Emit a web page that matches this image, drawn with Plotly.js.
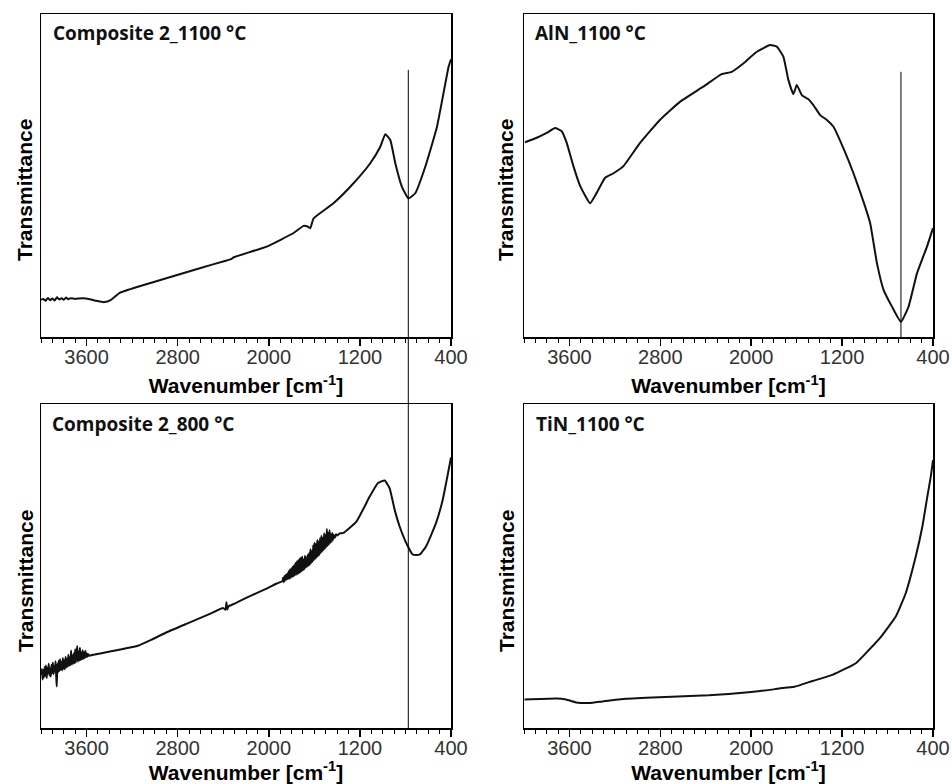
<!DOCTYPE html>
<html>
<head>
<meta charset="utf-8">
<script src="https://cdn.plot.ly/plotly-3.0.1.min.js"></script>
<style>html,body{margin:0;padding:0;background:#fff;}#chart{width:952px;height:784px;}</style>
</head>
<body>
<div id="chart"></div>
<script>
// ---------- Data (wavenumber in cm^-1, transmittance in arbitrary units 0..100) ----------
const panelTitles = ['Composite 2_1100 °C', 'AlN_1100 °C', 'Composite 2_800 °C', 'TiN_1100 °C'];
const tickVals = [3600, 2800, 2000, 1200, 400];

// Composite 2_1100 °C
const comp1100Wn = [4000,3980,3960,3940,3920,3900,3880,3860,3840,3820,3800,3780,3760,3740,3700,3635,3560,3517,3444,3385,3312,3135,2900,2606,2370,2330,2312,2018,1782,1694,1660,1635,1607,1432,1256,1109,1021,977,933,889,831,773,714,626,523,421,400];
const comp1100T  = [11.5,11.8,11.2,12.1,11.4,11.9,11.3,12.3,11.6,12.0,11.5,12.2,11.7,12.0,11.8,12.0,11.6,11.2,10.8,11.5,13.6,15.7,18.2,21.3,23.7,24.1,24.6,28.0,32.2,34.4,34.2,33.7,36.7,41.4,47.6,53.8,58.9,62.8,61.0,53.8,46.5,42.9,44.5,52.7,65.1,83.7,86.0];

// AlN_1100 °C
const alnWn = [3991,3888,3800,3726,3668,3624,3565,3506,3418,3359,3286,3212,3125,2980,2804,2628,2422,2260,2172,2070,1951,1834,1775,1717,1673,1629,1599,1555,1497,1453,1393,1334,1276,1188,1100,1012,953,893,835,761,682,615,541,453,400];
const alnT  = [60.3,61.7,63.2,64.7,63.7,60.1,52.9,46.8,41.4,44.7,49.3,50.7,52.9,60.0,67.2,72.8,77.5,81.4,82.1,84.7,88.3,90.4,89.9,86.8,79.6,75.2,78.0,74.9,73.6,71.8,68.7,67.2,65.1,58.4,50.7,41.9,35.2,22.8,14.6,9.4,4.7,9.4,19.7,28.0,33.7];

// Composite 2_800 °C
const comp800Wn = [3998,3992,3986,3980,3974,3968,3962,3956,3950,3944,3938,3932,3926,3920,3914,3908,3902,3896,3890,3884,3878,3872,3866,3862,3856,3850,3844,3838,3832,3826,3820,3814,3808,3802,3796,3790,3784,3778,3772,3766,3760,3754,3748,3742,3736,3730,3724,3718,3712,3706,3700,3694,3688,3682,3676,3670,3664,3658,3652,3646,3640,3634,3628,3622,3616,3610,3604,3598,3592,3586,3575,3540,3469,3324,3149,3033,2887,2713,2538,2400,2380,2372,2365,2355,2300,2189,2015,1930,
  1880,1874,1868,1862,1856,1850,1844,1838,1832,1826,1820,1814,1808,1802,1796,1790,1784,1778,1772,1766,1760,1754,1748,1742,1736,1730,1724,1718,1712,1706,1700,1694,1688,1682,1676,1670,1664,1658,1652,1646,1640,1634,1628,1622,1616,1610,1604,1598,1592,1586,1580,1574,1568,1562,1556,1550,1544,1538,1532,1526,1520,1514,1508,1502,1496,1490,1484,1478,1472,1466,1460,1454,1448,1442,1436,1430,1420,1410,1400,1380,
  1346,1229,1113,1041,982,939,895,851,793,735,677,618,531,473,415,400];
const comp800T  = [16.4,18.2,15.0,17.9,15.6,18.8,16.1,19.3,15.4,18.6,16.9,19.8,16.2,18.4,15.9,19.5,17.0,20.2,16.6,19.1,17.4,20.6,15.8,12.8,19.9,17.2,20.8,17.6,21.2,18.0,20.4,17.8,21.6,18.3,20.9,18.1,22.0,18.7,21.3,18.9,22.6,19.2,21.8,19.4,23.9,19.6,22.4,19.8,23.1,20.0,24.3,20.2,22.9,25.3,20.5,23.6,20.8,24.8,21.0,23.3,21.2,24.0,21.4,23.4,21.6,23.8,21.9,23.0,22.0,22.8,22.3,22.6,23.1,24.1,25.4,27.2,29.7,32.3,34.9,37.0,36.5,38.8,36.6,37.5,38.4,40.3,43.1,44.6,
  45.3,46.4,45.0,46.9,45.5,47.3,45.8,47.6,46.0,48.4,46.1,48.9,46.3,49.2,46.6,49.8,46.8,50.2,47.1,50.9,47.3,51.4,47.5,51.8,47.7,52.2,48.0,52.6,48.4,52.9,48.6,52.0,49.0,53.2,49.5,52.6,49.8,53.5,50.1,54.0,50.3,55.2,50.9,54.6,51.3,56.4,51.8,57.2,52.2,56.8,52.6,58.0,53.0,57.6,53.4,58.6,54.0,59.3,54.4,58.7,54.9,60.1,55.3,59.6,55.8,61.4,56.2,60.3,56.6,61.0,57.2,59.8,57.5,60.2,58.0,59.6,58.7,59.8,59.4,60.0,
  60.2,63.8,71.5,75.6,76.4,74.0,67.4,62.2,57.1,53.5,53.5,56.1,63.3,70.4,80.7,83.5];

// TiN_1100 °C
const tinWn = [3995,3717,3630,3542,3425,3308,3104,2812,2374,2024,1790,1753,1621,1461,1285,1079,991,875,728,640,552,494,450,420,400];
const tinT  = [8.8,9.1,8.8,7.9,7.7,8.2,9.0,9.5,10.1,11.0,12.0,12.2,12.7,14.5,16.4,20.0,23.1,27.4,34.4,41.6,52.9,62.1,71.4,77.5,82.7];

// Reference (marker) lines: wavenumber and top value of the line
const refLineCompWn = 775, refLineCompTop = 82.7;
const refLineAlnWn = 682, refLineAlnTop = 82.1;

// ---------- Layout ----------
const W = 952, H = 784;
const colL = [41/W, 451/W], colR = [524/W, 933/W];
const rowT = [1-337/H, 1-14/H], rowB = [1-728/H, 1-404/H];

const lineStyle = {color:'#111', width:2, shape:'spline', smoothing:0.4};
const traces = [
  {x: comp1100Wn, y: comp1100T, xaxis:'x',  yaxis:'y',  mode:'lines', line: lineStyle},
  {x: alnWn,      y: alnT,      xaxis:'x2', yaxis:'y2', mode:'lines', line: lineStyle},
  {x: comp800Wn,  y: comp800T,  xaxis:'x3', yaxis:'y3', mode:'lines', line: lineStyle},
  {x: tinWn,      y: tinT,      xaxis:'x4', yaxis:'y4', mode:'lines', line: lineStyle}
];

const textFont = 'Liberation Sans, Arial, sans-serif';
function xAxis(domain, anchor){
  return {
    domain: domain, anchor: anchor, range:[4000, 400], autorange:false,
    tickmode:'array', tickvals: tickVals, ticktext: tickVals.map(String),
    ticks:'outside', ticklen:7, tickwidth:1.5, tickcolor:'#000', ticklabelstandoff:-6,
    minor:{dtick:100, tick0:400, ticks:'outside', ticklen:4, tickwidth:1, tickcolor:'#000'},
    showline:true, linecolor:'#000', linewidth:1.5, mirror:true,
    showgrid:false, zeroline:false,
    tickfont:{family:textFont, size:20, color:'#333'},
    title:{text:'<b>Wavenumber [cm<sup>-1</sup>]</b>', standoff:12,
           font:{family:textFont, size:21, color:'#000'}}
  };
}
function yAxis(domain, anchor){
  return {
    domain: domain, anchor: anchor, range:[0, 100], autorange:false,
    showticklabels:false, ticks:'', showline:true, linecolor:'#000', linewidth:1.5, mirror:true,
    showgrid:false, zeroline:false
  };
}

const annFont = {family:'Open Sans, Noto Sans, sans-serif', size:19, color:'#111'};
const panelAnns = [
  {text:'<b>'+panelTitles[0]+'</b>', x:colL[0]+10/W, y:1-33/H},
  {text:'<b>'+panelTitles[1]+'</b>', x:colR[0]+9/W,  y:1-33/H},
  {text:'<b>'+panelTitles[2]+'</b>', x:colL[0]+9/W,  y:1-424/H},
  {text:'<b>'+panelTitles[3]+'</b>', x:colR[0]+10/W, y:1-424/H}
].map(a => Object.assign({xref:'paper', yref:'paper', xanchor:'left', yanchor:'middle', showarrow:false, font:annFont}, a));
const yTitleAnns = [
  {x:25/W,  y:1-190/H}, {x:506/W, y:1-190/H},
  {x:25/W,  y:1-581/H}, {x:506/W, y:1-581/H}
].map(a => Object.assign({text:'<b>Transmittance</b>', textangle:-90, xref:'paper', yref:'paper',
  xanchor:'center', yanchor:'middle', showarrow:false, font:{family:textFont, size:21, color:'#000'}}, a));

// Composite line spans from the bottom of the lower-left panel up into the upper-left panel
const compTopPaper = rowT[0] + (refLineCompTop/100)*(rowT[1]-rowT[0]);
const shapes = [
  {type:'line', xref:'x', yref:'paper', x0:refLineCompWn, x1:refLineCompWn, y0:rowB[0], y1:compTopPaper,
   line:{color:'#000', width:1}},
  {type:'line', xref:'x2', yref:'y2', x0:refLineAlnWn, x1:refLineAlnWn, y0:0, y1:refLineAlnTop,
   line:{color:'#000', width:1}}
];

const layout = {
  width:W, height:H, margin:{l:0, r:0, t:0, b:0},
  paper_bgcolor:'#fff', plot_bgcolor:'#fff', showlegend:false,
  xaxis: xAxis(colL,'y'),  yaxis: yAxis(rowT,'x'),
  xaxis2: xAxis(colR,'y2'), yaxis2: yAxis(rowT,'x2'),
  xaxis3: xAxis(colL,'y3'), yaxis3: yAxis(rowB,'x3'),
  xaxis4: xAxis(colR,'y4'), yaxis4: yAxis(rowB,'x4'),
  annotations: panelAnns.concat(yTitleAnns), shapes: shapes
};

Plotly.newPlot('chart', traces, layout, {staticPlot:true, displayModeBar:false});
</script>
</body>
</html>
